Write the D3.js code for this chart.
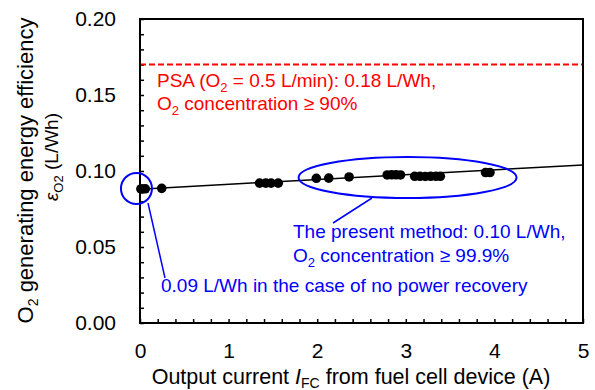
<!DOCTYPE html>
<html>
<head>
<meta charset="utf-8">
<script src="https://cdn.jsdelivr.net/npm/d3@7"></script>
<style>
  html, body { margin: 0; padding: 0; background: #fff; }
  svg text { font-family: Arial, "Liberation Sans", sans-serif; }
</style>
</head>
<body>
<div id="chart"></div>
<script>
// measured points: output current (A) vs O2 generating energy efficiency (L/Wh)
const currentA = [0.01, 0.03, 0.06, 0.245, 1.35, 1.42, 1.48, 1.56, 1.99, 2.13, 2.36,
                  2.79, 2.84, 2.89, 2.94, 3.10, 3.16, 3.22, 3.28, 3.34, 3.39, 3.90, 3.95];
const efficiency = [0.0882, 0.0882, 0.0883, 0.0886, 0.0920, 0.0920, 0.0920, 0.0920, 0.0952, 0.0953, 0.0961,
                    0.0974, 0.0975, 0.0975, 0.0974, 0.0965, 0.0965, 0.0964, 0.0965, 0.0965, 0.0965, 0.0990, 0.0990];

// linear fit
const fitX = [0, 5];
const fitY = [0.088, 0.104];

// PSA reference level
const psaLevel = 0.17;

const xTicks = [0, 1, 2, 3, 4, 5];
const yTicks = [0, 0.05, 0.10, 0.15, 0.20];

const W = 595, H = 390;
const margin = { top: 19, right: 12, bottom: 67, left: 140 };

const svg = d3.select('#chart').append('svg')
    .attr('width', W)
    .attr('height', H);

const x = d3.scaleLinear().domain([0, 5]).range([margin.left, W - margin.right]);
const y = d3.scaleLinear().domain([0, 0.2]).range([H - margin.bottom, margin.top]);

const FS = 19;      // annotation text
const TICK_FS = 21; // tick labels
const TITLE_FS = 21.5;
const blue = '#0000ff';
const red = '#ff0000';
const font = 'Arial, "Liberation Sans", sans-serif';

// minor ticks (inside)
svg.append('g')
    .attr('transform', `translate(0,${y(0)})`)
    .call(d3.axisBottom(x).tickValues(d3.range(0, 5.001, 0.2)).tickSize(-4).tickFormat(''))
    .call(g => g.select('.domain').remove())
    .call(g => g.selectAll('line').attr('stroke', '#000').attr('stroke-width', 1.5));

svg.append('g')
    .attr('transform', `translate(${x(0)},0)`)
    .call(d3.axisLeft(y).tickValues(d3.range(0, 0.2001, 0.01)).tickSize(-4).tickFormat(''))
    .call(g => g.select('.domain').remove())
    .call(g => g.selectAll('line').attr('stroke', '#000').attr('stroke-width', 1.5));

// tick labels
svg.append('g')
    .attr('transform', `translate(0,${y(0)})`)
    .call(d3.axisBottom(x).tickValues(xTicks).tickSize(0).tickPadding(20).tickFormat(d3.format('d')))
    .call(g => g.select('.domain').remove())
    .call(g => g.selectAll('text').attr('font-size', TICK_FS).attr('fill', '#000').attr('font-family', font));

svg.append('g')
    .attr('transform', `translate(${x(0)},0)`)
    .call(d3.axisLeft(y).tickValues(yTicks).tickSize(0).tickPadding(24).tickFormat(d3.format('.2f')))
    .call(g => g.select('.domain').remove())
    .call(g => g.selectAll('text').attr('font-size', TICK_FS).attr('fill', '#000').attr('font-family', font));

// PSA dashed line
svg.append('line')
    .attr('x1', x(0)).attr('x2', x(5))
    .attr('y1', y(psaLevel)).attr('y2', y(psaLevel))
    .attr('stroke', red).attr('stroke-width', 2)
    .attr('stroke-dasharray', '6,3');

// fit line
svg.append('path')
    .datum(d3.zip(fitX, fitY))
    .attr('fill', 'none')
    .attr('stroke', '#000')
    .attr('stroke-width', 1.5)
    .attr('d', d3.line().x(d => x(d[0])).y(d => y(d[1])));

// data points
svg.append('g')
    .selectAll('circle')
    .data(d3.zip(currentA, efficiency))
    .join('circle')
    .attr('cx', d => x(d[0]))
    .attr('cy', d => y(d[1]))
    .attr('r', 4.8)
    .attr('fill', '#000');

// frame
svg.append('rect')
    .attr('x', x(0)).attr('y', y(0.2))
    .attr('width', x(5) - x(0)).attr('height', y(0) - y(0.2))
    .attr('fill', 'none').attr('stroke', '#000').attr('stroke-width', 2);

// blue annotations
svg.append('circle')
    .attr('cx', x(-0.04)).attr('cy', y(0.0885))
    .attr('r', 15.5)
    .attr('fill', 'none').attr('stroke', blue).attr('stroke-width', 2);

svg.append('ellipse')
    .attr('cx', x(3.02)).attr('cy', y(0.0957))
    .attr('rx', 109).attr('ry', 20.5)
    .attr('fill', 'none').attr('stroke', blue).attr('stroke-width', 2);

svg.append('line')
    .attr('x1', 148).attr('y1', 203).attr('x2', 165).attr('y2', 278)
    .attr('stroke', blue).attr('stroke-width', 1.5);

svg.append('line')
    .attr('x1', 372).attr('y1', 198).attr('x2', 333).attr('y2', 223)
    .attr('stroke', blue).attr('stroke-width', 1.5);

// text helper with subscripts: parts = [[text, sub?, italic?]]
function richText(sel, parts, subSize = 13, shift = 5) {
  let prevSub = false;
  parts.forEach(([t, sub, it]) => {
    const ts = sel.append('tspan').text(t);
    if (sub) ts.attr('font-size', subSize).attr('dy', shift);
    if (it) ts.attr('font-style', 'italic');
    if (!sub && prevSub) ts.attr('dy', -shift);
    prevSub = !!sub;
  });
  return sel;
}

function label(tx, ty, color, parts) {
  const t = svg.append('text').attr('x', tx).attr('y', ty)
      .attr('font-size', FS).attr('fill', color);
  return richText(t, parts);
}

label(157, 87, red, [['PSA (O'], ['2', true], [' = 0.5 L/min): 0.18 L/Wh,']]);
label(157, 110, red, [['O'], ['2', true], [' concentration \u2265 90%']]);

label(293, 238, blue, [['The present method: 0.10 L/Wh,']]);
label(293, 262, blue, [['O'], ['2', true], [' concentration \u2265 99.9%']]);
label(161, 292, blue, [['0.09 L/Wh in the case of no power recovery']]);

// x axis title
svg.append('text')
    .attr('x', 351).attr('y', 384)
    .attr('text-anchor', 'middle')
    .attr('font-size', TITLE_FS).attr('fill', '#000')
    .call(t => richText(t, [['Output current '], ['I', false, true], ['FC', true], [' from fuel cell device (A)']], 14, 4));

// y axis title (two lines)
svg.append('text')
    .attr('transform', 'translate(33,170.5) rotate(-90)')
    .attr('text-anchor', 'middle')
    .attr('font-size', 22).attr('fill', '#000')
    .call(t => richText(t, [['O'], ['2', true], [' generating energy efficiency']], 14, 5));

svg.append('text')
    .attr('transform', 'translate(58,157) rotate(-90)')
    .attr('text-anchor', 'middle')
    .attr('font-size', FS).attr('fill', '#000')
    .call(t => richText(t, [['\u03b5', false, true], ['O2', true], [' (L/Wh)']]));
</script>
</body>
</html>
